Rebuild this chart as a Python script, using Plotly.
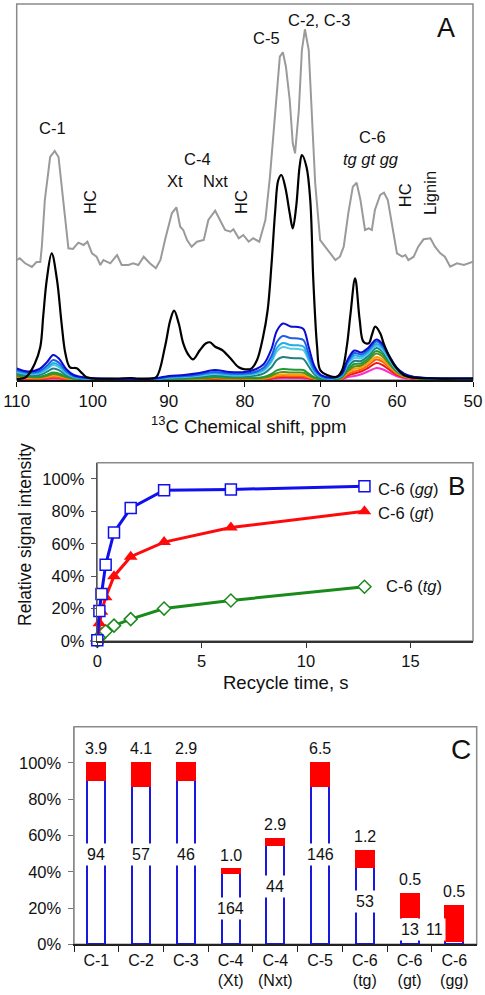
import plotly.graph_objects as go

FONT = "Liberation Sans, Arial, Helvetica, sans-serif"

# ---------------- Panel A: 13C spectra ----------------
gray_ppm = [110, 109.6, 108.9, 108.0, 107.4, 106.9, 106.7, 106.3, 105.6, 105.0, 104.5, 103.9, 103.2,
            102.6, 101.9, 101.2, 100.7, 100.1, 99.5, 99.0, 98.6, 97.7, 96.8, 96.2, 95.3, 94.7, 94.0,
            93.3, 92.5, 91.7, 91.1, 90.5, 89.6, 89.0, 88.5, 88.1, 87.6, 87.0, 86.3, 85.4, 84.8, 83.9,
            83.3, 82.6, 81.9, 81.5, 80.8, 80.2, 79.5, 78.9, 78.1, 77.3, 76.7, 76.0, 75.4, 75.0, 74.6,
            74.1, 73.7, 73.4, 72.9, 72.5, 72.1, 71.6, 71.2, 70.75, 70.1, 69.4, 68.8, 68.1, 67.5, 67.0,
            66.4, 65.8, 65.3, 64.8, 64.2, 63.7, 63.3, 62.9, 62.2, 61.7, 61.2, 60.7, 60.0, 59.3, 58.9,
            58.5, 57.8, 57.2, 56.5, 55.6, 55.0, 54.3, 53.7, 53.0, 52.1, 51.2, 50.6, 50.0]
gray_int = [120, 121.7, 116.7, 113, 118, 118, 133, 180, 223, 229, 223, 180, 131.7,
            131, 137.3, 135, 138.3, 126.7, 123.3, 115, 120, 116.7, 125, 115, 115, 116.7, 115,
            123.3, 116.7, 111.7, 120, 140, 166.7, 172.7, 153.3, 150, 140, 133.3, 138.3, 140, 160, 169.3,
            160, 150, 148.3, 150.7, 141.7, 145, 138.3, 141.7, 138.3, 160, 203.3, 270, 323.3, 327.7, 313.3,
            280, 236.7, 226.7, 270, 330, 350.7, 330, 270, 196.7, 140, 133.3, 126.7, 120, 123.3, 133.3,
            166.7, 193.3, 197.3, 180, 150, 151.7, 150, 170, 185, 187.3, 180, 156.7, 126.7, 123.3, 125,
            120, 123.3, 133.3, 140.7, 141.7, 133.3, 126.7, 123.3, 113.3, 116.7, 115, 116.7, 118.3]

black_ppm = [110, 109, 108.5, 107.6, 106.9, 106.5, 106.05, 105.4, 104.7, 104.1, 103.6, 103.0, 102.1,
             101.4, 100.8, 100, 97, 95, 94, 92.4, 91.6, 90.5, 89.8, 89.3, 88.7, 88.1, 87.4, 86.8,
             85.9, 85.1, 84.6, 83.9, 83.0, 81.9, 80.8, 80.0, 79.1, 78.4, 77.6, 77.0, 76.5, 76.0,
             75.6, 75.2, 74.7, 74.1, 73.7, 73.25, 72.8, 72.5, 71.9, 71.4, 71.0, 70.5, 70.1, 69.2,
             67.9, 67.2, 66.6, 66.1, 65.5, 64.9, 64.4, 63.7, 63.3, 62.85, 62.2, 61.75, 61.1, 60.2,
             59.1, 57.8, 55, 52, 50]
black_int = [1, 2, 5, 16.7, 33, 65, 100, 126.7, 100, 56.7, 26.7, 12.7, 11.7,
             6.7, 2.7, 1.5, 1.5, 2, 1.5, 1.5, 3.3, 33.3, 60, 69.3, 56.7, 36.7, 25, 20.7,
             30, 36.7, 37.7, 33.3, 30, 21.7, 12.7, 10.7, 11.7, 20, 43.3, 70, 115, 170,
             200, 205, 193.3, 166.7, 151.7, 173.3, 213.3, 225, 213.3, 180, 100, 33.3, 10, 5,
             3.3, 10, 33.3, 66.7, 101.7, 60, 38.3, 36.7, 45, 53.3, 46.7, 36.7, 25, 13.3,
             5, 2.3, 1.5, 1.5, 1.5]

col_ppm = [110, 108.5, 107, 106, 105.2, 104.4, 103.5, 102.5, 101, 99, 92, 90, 88, 86, 84, 82, 80,
           78.5, 77.5, 76.5, 75.8, 75, 74, 73, 72.3, 71.6, 70.8, 70, 68.5, 67.3, 66.5, 65.6, 64.7,
           63.8, 62.7, 61.9, 61, 60, 59, 58, 56, 50]
spec_blue = [11.5, 8.5, 11, 18, 25, 21, 11, 5, 2.5, 1.5, 1.5, 4, 5, 7, 10, 8, 8, 11, 16, 31, 49, 56.5,
             53.5, 53, 51, 33, 13, 5, 2.5, 6, 20, 29.5, 27.5, 32, 40.5, 36, 24, 12, 6, 3.5, 2, 1.5]
spec_royal = [10, 7.5, 9, 14.5, 20, 17, 9, 4, 2, 1.2, 1.2, 3.2, 4, 5.6, 8, 6.4, 6.4, 8.5, 12.5, 24, 38,
              44, 42, 41.5, 40, 26, 10, 4, 2, 5, 18, 27, 25.5, 30, 38.5, 34, 23, 11.5, 5.5, 3.2, 1.8, 1.3]
spec_sky = [9, 6.5, 7.5, 12, 17, 14.5, 7.5, 3.5, 1.7, 1, 1, 2.8, 3.5, 5, 7, 5.6, 5.6, 7.2, 10.5, 20, 32,
            37, 35, 34.7, 33.4, 21.6, 8.5, 3.3, 1.7, 4.5, 16.5, 24.5, 23.5, 28, 36, 32, 21.5, 10.8, 5.3, 3,
            1.6, 1.2]
spec_cyan = [8, 6, 6.6, 10.8, 15, 12.6, 6.6, 3, 1.5, 0.9, 0.9, 2.4, 3, 4.2, 6, 4.8, 4.8, 6.4, 9.4, 18,
             28.7, 33, 31.3, 31, 29.8, 19.3, 7.6, 2.9, 1.5, 4, 15, 22, 21.5, 26.3, 34, 30.3, 20.2, 10, 5,
             2.9, 1.5, 1.1]
spec_teal = [6.5, 4.8, 5, 8.3, 11.5, 9.7, 5, 2.3, 1.2, 0.7, 0.7, 1.8, 2.3, 3.2, 4.5, 3.6, 3.6, 4.5, 6.6,
             12.7, 20, 23, 22, 21.7, 21, 13.5, 5.3, 2, 1.1, 3.3, 12.8, 19, 19, 24, 32, 28.5, 19, 9.5, 4.7,
             2.8, 1.4, 1]
spec_green = [5, 3.7, 3.3, 5.4, 7.5, 6.3, 3.3, 1.5, 0.8, 0.5, 0.5, 1.2, 1.5, 2.1, 3, 2.4, 2.4, 2.1, 3.1,
              6, 9.6, 11, 10.4, 10.3, 10, 6.4, 2.5, 1, 0.6, 2.5, 10.5, 16, 16.5, 21.5, 29, 26, 17.5, 8.8,
              4.4, 2.6, 1.3, 0.9]
spec_olive = [4, 3, 2.6, 4.3, 6, 5, 2.6, 1.2, 0.6, 0.4, 0.4, 1, 1.2, 1.7, 2.5, 2, 2, 1.5, 2.2, 4.3, 6.9,
              8, 7.5, 7.4, 7.2, 4.6, 1.8, 0.7, 0.5, 2, 8.8, 13.5, 14.5, 19.3, 26.5, 23.5, 16, 8, 4, 2.4,
              1.2, 0.8]
spec_orange = [3, 2.2, 2, 3.2, 4.5, 3.8, 2, 0.9, 0.5, 0.3, 0.3, 0.8, 1, 1.4, 2, 1.6, 1.6, 1.1, 1.6, 3.1,
               4.9, 5.5, 5.3, 5.2, 5.1, 3.3, 1.3, 0.5, 0.4, 1.6, 7, 11, 12.5, 16.8, 23, 20.5, 14, 7, 3.5,
               2.1, 1, 0.7]
spec_orred = [2.5, 1.8, 1.3, 2.2, 3, 2.5, 1.3, 0.6, 0.3, 0.2, 0.2, 0.6, 0.8, 1, 1.5, 1.2, 1.2, 0.8, 1.1,
              2.2, 3.4, 4, 3.7, 3.7, 3.6, 2.3, 0.9, 0.4, 0.3, 1.2, 5.6, 8.5, 10.5, 14.5, 20.5, 18.3, 12.5,
              6.3, 3.2, 1.9, 0.9, 0.6]
spec_red = [2, 1.4, 1.1, 1.8, 2.5, 2.1, 1.1, 0.5, 0.3, 0.2, 0.2, 0.4, 0.5, 0.7, 1, 0.8, 0.8, 0.6, 0.8,
            1.6, 2.6, 3, 2.8, 2.8, 2.7, 1.7, 0.7, 0.3, 0.2, 0.9, 4.3, 6.5, 8.5, 12, 17, 15, 10.2, 5.1, 2.6,
            1.5, 0.8, 0.5]
spec_magenta = [1.5, 1.1, 0.7, 1.1, 1.5, 1.3, 0.7, 0.3, 0.2, 0.1, 0.1, 0.3, 0.4, 0.6, 0.8, 0.6, 0.6,
                0.4, 0.6, 1.1, 1.7, 2, 1.9, 1.9, 1.8, 1.2, 0.5, 0.2, 0.1, 0.6, 2.8, 4, 5.8, 8.5, 12, 10.7,
                7.3, 3.6, 1.8, 1.1, 0.6, 0.4]

colored = [
    (spec_magenta, "#ff2ad0"),
    (spec_red, "#e81818"),
    (spec_orred, "#ff5a0a"),
    (spec_orange, "#ff9f0a"),
    (spec_olive, "#5e8c14"),
    (spec_green, "#1f9a35"),
    (spec_teal, "#217f80"),
    (spec_cyan, "#55cbe0"),
    (spec_sky, "#1eaee8"),
    (spec_royal, "#1e5fe6"),
    (spec_blue, "#0c0cd2"),
]

ppm_ticks = [110, 100, 90, 80, 70, 60, 50]

# ---------------- Panel B: recycle time ----------------
recycle_t = [0, 0.1, 0.2, 0.4, 0.8, 1.6, 3.2, 6.4, 12.8]
c6_gg = [0.5, 18.5, 29, 47, 67, 82, 93, 93.5, 95.5]
c6_gt = [0, 11, 18, 27, 40, 52, 61, 70, 80]
c6_tg = [0, 2, 4, 6, 9.5, 13.5, 20, 25, 33.5]
pct_ticks = [0, 20, 40, 60, 80, 100]
pct_text = ["0%", "20%", "40%", "60%", "80%", "100%"]
time_ticks = [0, 5, 10, 15]

# ---------------- Panel C: bars ----------------
bar_cats = ["C-1", "C-2", "C-3", "C-4<br>(Xt)", "C-4<br>(Nxt)", "C-5", "C-6<br>(tg)", "C-6<br>(gt)", "C-6<br>(gg)"]
blue_part = [90.8, 87.1, 90.8, 39.2, 54.9, 87.1, 42.9, 15.2, 1.8]
red_part = [9.2, 12.9, 9.2, 2.2, 3.4, 12.9, 8.6, 12.6, 19.5]
blue_labels = ["94", "57", "46", "164", "44", "146", "53", "13", "11"]
blue_label_pos = [49.7, 49.7, 49.7, 20, 31.8, 49.7, 23.5, 8.3, 8.3]
red_labels = ["3.9", "4.1", "2.9", "1.0", "2.9", "6.5", "1.2", "0.5", "0.5"]

fig = go.Figure()

# Panel A traces
for vals, col in colored:
    fig.add_trace(go.Scatter(x=col_ppm, y=vals, mode="lines", line=dict(color=col, width=2, shape="spline"),
                             xaxis="x", yaxis="y", showlegend=False, hoverinfo="skip"))
fig.add_trace(go.Scatter(x=black_ppm, y=black_int, mode="lines", line=dict(color="black", width=2.2, shape="spline"),
                         xaxis="x", yaxis="y", showlegend=False))
fig.add_trace(go.Scatter(x=gray_ppm, y=gray_int, mode="lines", line=dict(color="#9a9a9a", width=2),
                         xaxis="x", yaxis="y", showlegend=False))

# Panel B traces
fig.add_trace(go.Scatter(x=recycle_t, y=c6_tg, mode="lines+markers", cliponaxis=False,
                         line=dict(color="#1a8a1a", width=3),
                         marker=dict(symbol="diamond", size=10, color="white", line=dict(color="#1a8a1a", width=1.5)),
                         xaxis="x2", yaxis="y2", showlegend=False))
fig.add_trace(go.Scatter(x=recycle_t, y=c6_gt, mode="lines+markers", cliponaxis=False,
                         line=dict(color="#ff0a0a", width=3),
                         marker=dict(symbol="triangle-up", size=12, color="#ff0a0a"),
                         xaxis="x2", yaxis="y2", showlegend=False))
fig.add_trace(go.Scatter(x=recycle_t, y=c6_gg, mode="lines+markers", cliponaxis=False,
                         line=dict(color="#1010ee", width=3),
                         marker=dict(symbol="square", size=11, color="white", line=dict(color="#1010ee", width=1.5)),
                         xaxis="x2", yaxis="y2", showlegend=False))

# Panel C traces
fig.add_trace(go.Bar(x=bar_cats, y=blue_part, width=0.4, marker=dict(color="white", line=dict(color="#1818e0", width=2)),
                     xaxis="x3", yaxis="y3", showlegend=False))
fig.add_trace(go.Bar(x=bar_cats, y=red_part, width=0.4, marker=dict(color="#ff0000", line=dict(color="#ff0000", width=2)),
                     xaxis="x3", yaxis="y3", showlegend=False))

ann = []
def a(text, x, y, xref="x", yref="y", size=16.5, **kw):
    d = dict(text=text, x=x, y=y, xref=xref, yref=yref, showarrow=False,
             xanchor="center", yanchor="middle",
             font=dict(family=FONT, size=size, color="#111"))
    d.update(kw)
    ann.append(d)

# Panel A labels
a("C-1", 105.3, 252.3)
a("HC", 100.45, 178.3, textangle=-90)
a("C-4", 86.2, 220.7)
a("Xt", 89.2, 199)
a("Nxt", 83.9, 199)
a("HC", 80.6, 178.3, textangle=-90)
a("C-5", 77.2, 341.7)
a("C-2, C-3", 70.2, 360)
a("C-6", 63.2, 243.3)
a("<i>tg gt gg</i>", 63.4, 220.7)
a("HC", 59.0, 184.3, textangle=-90)
a("Lignin", 55.75, 187.3, textangle=-90, size=16.5)
a("A", 53.55, 352.3, size=27)
a("<sup>13</sup>C Chemical shift, ppm", 248.3 / 485, 1 - 425 / 995, xref="paper", yref="paper", size=18.5)

# Panel B labels
a("C-6 (<i>gg</i>)", 13.35, 94, xref="x2", yref="y2", xanchor="left")
a("C-6 (<i>gt</i>)", 13.35, 78.8, xref="x2", yref="y2", xanchor="left")
a("C-6 (<i>tg</i>)", 13.75, 34.1, xref="x2", yref="y2", xanchor="left")
a("B", 17.2, 95.9, xref="x2", yref="y2", size=26)
a("Relative signal intensity", 25 / 485, 1 - 535 / 995, xref="paper", yref="paper", size=17.5, textangle=-90)
a("Recycle time, s", 285.7 / 485, 1 - 682.7 / 995, xref="paper", yref="paper", size=18.5)

# Panel C labels
for i in range(len(bar_cats)):
    xi = i - 0.45 if i == len(bar_cats) - 1 else i
    a(blue_labels[i], xi, blue_label_pos[i], xref="x3", yref="y3", size=16, bgcolor="white", borderpad=2)
    a(red_labels[i], i, blue_part[i] + red_part[i], xref="x3", yref="y3", size=16, yshift=14)
a("C", 8.15, 107.5, xref="x3", yref="y3", size=28)

frame = dict(type="rect", x0=0, x1=1, y0=0, y1=1, line=dict(color="#8a8a8a", width=1.5), layer="below")
shapes = [dict(frame, xref="x domain", yref="y domain"),
          dict(frame, xref="x2 domain", yref="y2 domain"),
          dict(frame, xref="x3 domain", yref="y3 domain")]

tickfont = dict(family=FONT, size=16.5, color="#111")

fig.update_layout(
    width=485, height=995, autosize=False,
    margin=dict(l=0, r=0, t=0, b=0, pad=0),
    paper_bgcolor="white", plot_bgcolor="white",
    font=dict(family=FONT, color="#111"),
    showlegend=False, barmode="stack",
    annotations=ann, shapes=shapes,
    xaxis=dict(domain=[16.7 / 485, 473 / 485], anchor="y", range=[110, 50], tickvals=ppm_ticks,
               ticktext=[str(v) for v in ppm_ticks], automargin=False,
               ticks="outside", ticklen=5, tickcolor="#111", showline=True, linecolor="#111", linewidth=1.5,
               showgrid=False, zeroline=False, tickfont=dict(family=FONT, size=17, color="#111")),
    yaxis=dict(domain=[1 - 380 / 995, 1 - 4 / 995], anchor="x", range=[0, 376], visible=False,
               showgrid=False, zeroline=False, automargin=False),
    xaxis2=dict(domain=[97.3 / 485, 473 / 485], anchor="y2", range=[0, 18], tickvals=time_ticks,
                ticktext=[str(v) for v in time_ticks], automargin=False,
                ticks="outside", ticklen=5, tickcolor="#333", showline=True, linecolor="#333", linewidth=1.5,
                showgrid=False, zeroline=False, tickfont=tickfont),
    yaxis2=dict(domain=[1 - 641 / 995, 1 - 462.7 / 995], anchor="x2", range=[0, 110], tickvals=pct_ticks,
                ticktext=pct_text, automargin=False, ticks="outside", ticklen=5, tickcolor="#555",
                showline=True, linecolor="#555", linewidth=1.5, showgrid=False, zeroline=False,
                tickfont=tickfont, ticklabelstandoff=3),
    xaxis3=dict(domain=[74 / 485, 476.7 / 485], anchor="y3", range=[-0.5, 8.5], type="category",
                automargin=False, ticks="outside", tickson="boundaries", ticklen=6, tickcolor="#222",
                showline=True, linecolor="#222", linewidth=2, showgrid=False, zeroline=False, tickangle=0,
                tickfont=dict(family=FONT, size=16, color="#111")),
    yaxis3=dict(domain=[1 - 944.3 / 995, 1 - 726.7 / 995], anchor="x3", range=[0, 120], tickvals=pct_ticks,
                ticktext=pct_text, automargin=False, ticks="outside", ticklen=5, tickcolor="#777",
                showline=True, linecolor="#8a8a8a", linewidth=1.5, showgrid=False, zeroline=False,
                tickfont=tickfont, ticklabelstandoff=3),
)

fig.write_html("out.html", config={"displayModeBar": False, "staticPlot": True},
               post_script="document.body.style.margin='0';document.body.style.overflow='hidden';")
